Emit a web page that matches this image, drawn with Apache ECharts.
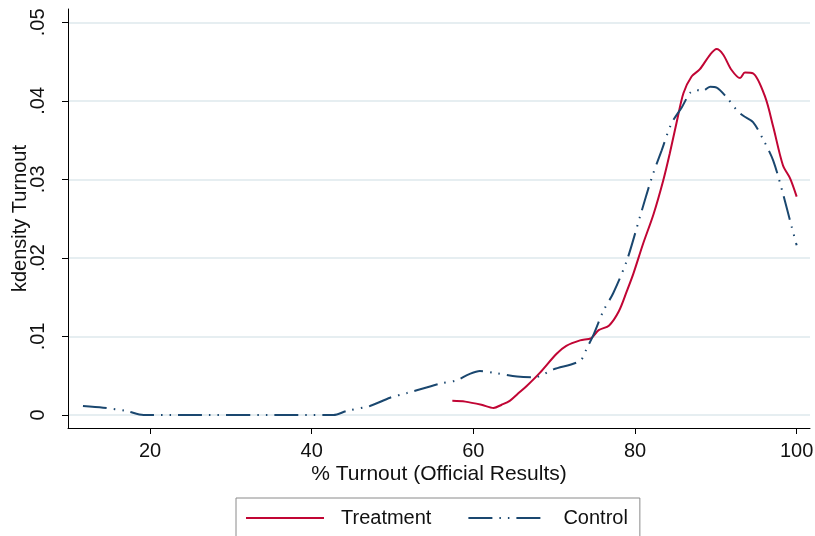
<!DOCTYPE html>
<html>
<head>
<meta charset="utf-8">
<script src="https://cdn.jsdelivr.net/npm/echarts@6/dist/echarts.min.js"></script>
<style>
  html, body { margin: 0; padding: 0; background: #fff; }
  #chart { width: 815px; height: 536px; }
</style>
</head>
<body>
<div id="chart"></div>
<script>
// 数据（从图上读出来的估计值）
var treatX = [57.4, 59, 61, 62.5, 63.5, 64.5, 65.5, 66.6, 68.25, 70.3, 71.5, 73.2, 74.6, 75.5, 76.8, 78.0, 79.0, 79.8, 81.0, 82.3, 83.5, 84.3, 85.2, 86.0, 87.0, 88.0, 89.3, 90.1, 90.9, 91.9, 93.0, 93.6, 94.6, 96.1, 97.1, 98.3, 99.2, 100.0];
var treatY = [0.0018, 0.0017, 0.0013, 0.0009, 0.0013, 0.0018, 0.0027, 0.0037, 0.0054, 0.0078, 0.0088, 0.0095, 0.0098, 0.0108, 0.0114, 0.0132, 0.0158, 0.018, 0.0218, 0.0256, 0.0299, 0.0333, 0.0375, 0.041, 0.0431, 0.044, 0.0459, 0.0466, 0.0459, 0.044, 0.0429, 0.0436, 0.0435, 0.0405, 0.0367, 0.0318, 0.0301, 0.0278];
var ctrlX = [11.7, 14.2, 17.1, 19.2, 42.7, 44.3, 47.2, 49.7, 51.8, 54.2, 55.9, 57.9, 59.5, 60.8, 62.9, 65.4, 67.6, 69.9, 73.2, 74.0, 74.9, 76.1, 77.3, 79.0, 80.6, 82.1, 83.3, 84.5, 85.8, 86.8, 87.6, 88.3, 89.3, 90.1, 91.3, 92.6, 93.4, 94.6, 95.9, 97.1, 98.3, 99.4, 100.0];
var ctrlY = [0.00115, 0.00093, 0.0005, 0, 0, 0.0005, 0.00115, 0.0022, 0.0028, 0.0035, 0.004, 0.0044, 0.0052, 0.0056, 0.0053, 0.0049, 0.0048, 0.0058, 0.0069, 0.0084, 0.0103, 0.0133, 0.0155, 0.0197, 0.0252, 0.0303, 0.0337, 0.0371, 0.0392, 0.041, 0.0414, 0.0412, 0.0418, 0.0417, 0.0405, 0.0388, 0.0381, 0.0373, 0.035, 0.0324, 0.0282, 0.0239, 0.0216];
var xTicks = [20, 40, 60, 80, 100];
var yTicks = [0, 0.01, 0.02, 0.03, 0.04, 0.05];

function pairs(xs, ys) {
    var out = [];
    for (var i = 0; i < xs.length; i++) {
        out.push([xs[i], ys[i]]);
    }
    return out;
}

var font = 'Liberation Sans, Arial, sans-serif';
var myChart = echarts.init(document.getElementById('chart'));
var option = {
    animation: false,
    backgroundColor: '#ffffff',
    grid: { left: 68, right: 5, top: 9, bottom: 108, containLabel: false, outerBoundsMode: 'none' },
    legend: {
        left: 236,
        top: 498,
        padding: [10, 12, 12, 9],
        itemGap: 36,
        itemWidth: 78,
        itemHeight: 14,
        borderColor: '#8a8a8a',
        borderWidth: 1,
        itemStyle: { opacity: 0 },
        textStyle: { fontFamily: font, fontSize: 20, color: '#111', padding: [0, 0, 0, 12] },
        data: ['Treatment', 'Control']
    },
    xAxis: {
        type: 'value',
        min: 9.85,
        max: 101.65,
        name: '% Turnout (Official Results)',
        nameLocation: 'middle',
        nameGap: 36,
        nameMoveOverlap: false,
        nameTextStyle: { fontFamily: font, fontSize: 21, color: '#111' },
        axisLine: { onZero: false, lineStyle: { color: '#000', width: 1 } },
        axisTick: { show: true, length: 6, customValues: xTicks, lineStyle: { color: '#000' } },
        axisLabel: { customValues: xTicks, margin: 13, fontFamily: font, fontSize: 20, color: '#111' },
        splitLine: { show: false }
    },
    yAxis: {
        type: 'value',
        min: -0.00166,
        max: 0.0517,
        name: 'kdensity Turnout',
        nameLocation: 'middle',
        nameGap: 38,
        nameRotate: 90,
        nameMoveOverlap: false,
        nameTextStyle: { fontFamily: font, fontSize: 20, color: '#111' },
        axisLine: { show: true, onZero: false, lineStyle: { color: '#000', width: 1 } },
        axisTick: { show: true, length: 6, customValues: yTicks, lineStyle: { color: '#000' } },
        axisLabel: {
            customValues: yTicks,
            rotate: 90,
            margin: 20,
            fontFamily: font,
            fontSize: 20,
            color: '#111',
            formatter: function(v) {
                if (Math.abs(v) < 1e-9) return '0';
                return v.toFixed(2).replace(/^0/, '');
            }
        },
        splitLine: { show: true, lineStyle: { color: '#e6eef1', width: 2 } }
    },
    series: [{
        name: 'Treatment',
        type: 'line',
        symbol: 'none',
        smooth: 0.3,
        data: pairs(treatX, treatY),
        itemStyle: { color: '#c10534' },
        lineStyle: { color: '#c10534', width: 2 }
    }, {
        name: 'Control',
        type: 'line',
        symbol: 'none',
        smooth: 0.3,
        data: pairs(ctrlX, ctrlY),
        itemStyle: { color: '#1a476f' },
        lineStyle: { color: '#1a476f', width: 2, type: [24, 7, 1.5, 7, 1.5, 7] }
    }]
};
myChart.setOption(option);
</script>
</body>
</html>
